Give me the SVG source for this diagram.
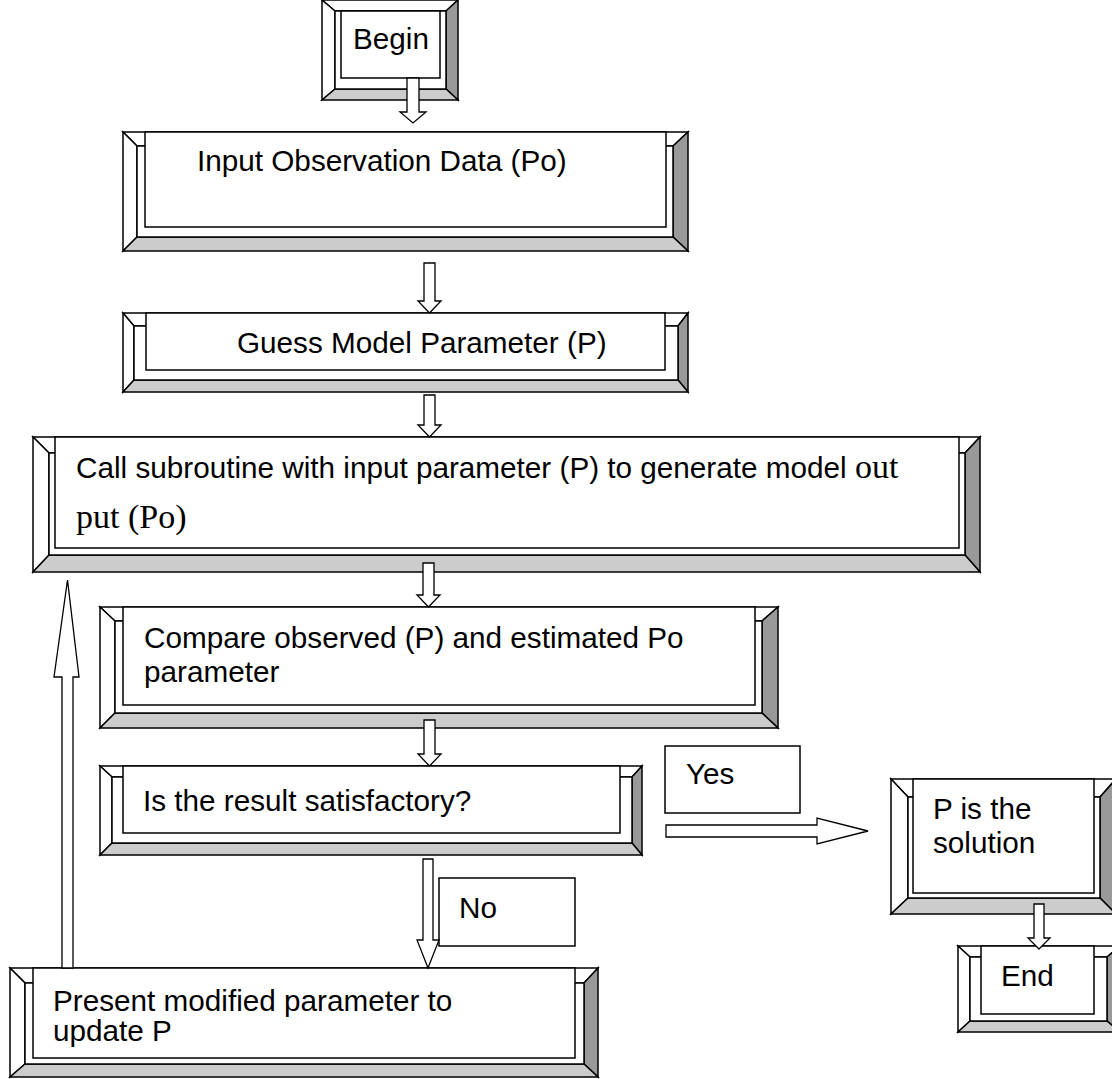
<svg xmlns="http://www.w3.org/2000/svg" width="1112" height="1079" viewBox="0 0 1112 1079">
<style>
.lt{fill:#fff;stroke:#000;stroke-width:1.5;stroke-linejoin:miter}
.dk{fill:#999;stroke:#000;stroke-width:1.5}
.md{fill:#ccc;stroke:#000;stroke-width:1.5}
.tx{font-family:"Liberation Sans",Arial,sans-serif;font-size:29.7px;fill:#000}
.ar{fill:#fff;stroke:#000;stroke-width:1.3;stroke-linejoin:miter}
</style>
<rect width="1112" height="1079" fill="#fff"/>
<g id="begin">
<polygon class="lt" points="322,0 458,0 446,11 335,11"/>
<polygon class="lt" points="322,0 335,11 335,89 322,100"/>
<polygon class="dk" points="458,0 458,100 446,89 446,11"/>
<polygon class="md" points="322,100 335,89 446,89 458,100"/>
<rect class="lt" x="335" y="11" width="111" height="78"/>
<rect class="lt" x="341" y="11" width="99" height="67"/>
<text class="tx" x="353" y="49">Begin</text>
</g>
<g id="input">
<polygon class="lt" points="123,132 688,132 673,146 137,146"/>
<polygon class="lt" points="123,132 137,146 137,237 123,251"/>
<polygon class="dk" points="688,132 688,251 673,237 673,146"/>
<polygon class="md" points="123,251 137,237 673,237 688,251"/>
<rect class="lt" x="137" y="146" width="536" height="91"/>
<rect class="lt" x="145" y="132" width="521" height="95"/>
<text class="tx" x="197" y="171">Input Observation Data (Po)</text>
</g>
<g id="guess">
<polygon class="lt" points="123,313 688,313 678,326 134,326"/>
<polygon class="lt" points="123,313 134,326 134,380 123,392"/>
<polygon class="dk" points="688,313 688,392 678,380 678,326"/>
<polygon class="md" points="123,392 134,380 678,380 688,392"/>
<rect class="lt" x="134" y="326" width="544" height="54"/>
<rect class="lt" x="146" y="313" width="519" height="57"/>
<text class="tx" x="237" y="353">Guess Model Parameter (P)</text>
</g>
<g id="call">
<polygon class="lt" points="33,437 980,437 965,453 49,453"/>
<polygon class="lt" points="33,437 49,453 49,555 33,572"/>
<polygon class="dk" points="980,437 980,572 965,555 965,453"/>
<polygon class="md" points="33,572 49,555 965,555 980,572"/>
<rect class="lt" x="49" y="453" width="916" height="102"/>
<rect class="lt" x="55" y="437" width="904" height="111"/>
<text class="tx" x="76" y="478">Call subroutine with input parameter (P) to generate model <tspan font-family="'Liberation Serif','Times New Roman',serif" font-size="34">out</tspan></text>
<text font-family="'Liberation Serif','Times New Roman',serif" font-size="34" x="76" y="528">put (Po)</text>
</g>
<g id="compare">
<polygon class="lt" points="100,607 778,607 762,621 115,621"/>
<polygon class="lt" points="100,607 115,621 115,713 100,728"/>
<polygon class="dk" points="778,607 778,728 762,713 762,621"/>
<polygon class="md" points="100,728 115,713 762,713 778,728"/>
<rect class="lt" x="115" y="621" width="647" height="92"/>
<rect class="lt" x="123" y="607" width="632" height="98"/>
<text class="tx" x="144" y="648">Compare observed (P) and estimated Po</text>
<text class="tx" x="144" y="682">parameter</text>
</g>
<g id="check">
<polygon class="lt" points="100,766 642,766 632,777 112,777"/>
<polygon class="lt" points="100,766 112,777 112,843 100,855"/>
<polygon class="dk" points="642,766 642,855 632,843 632,777"/>
<polygon class="md" points="100,855 112,843 632,843 642,855"/>
<rect class="lt" x="112" y="777" width="520" height="66"/>
<rect class="lt" x="123" y="766" width="497" height="67"/>
<text class="tx" x="143" y="811">Is the result satisfactory?</text>
</g>
<g id="yes-label">
<rect class="lt" x="665" y="746" width="135" height="67"/>
<text class="tx" x="686" y="784">Yes</text>
</g>
<g id="solution">
<polygon class="lt" points="891,779 1116,779 1100,797 908,797"/>
<polygon class="lt" points="891,779 908,797 908,898 891,914"/>
<polygon class="dk" points="1116,779 1116,914 1100,898 1100,797"/>
<polygon class="md" points="891,914 908,898 1100,898 1116,914"/>
<rect class="lt" x="908" y="797" width="192" height="101"/>
<rect class="lt" x="913" y="779" width="181" height="114"/>
<text class="tx" x="933" y="819">P is the</text>
<text class="tx" x="933" y="853">solution</text>
</g>
<g id="end">
<polygon class="lt" points="958,946 1120,946 1107,957 970,957"/>
<polygon class="lt" points="958,946 970,957 970,1021 958,1032"/>
<polygon class="dk" points="1120,946 1120,1032 1107,1021 1107,957"/>
<polygon class="md" points="958,1032 970,1021 1107,1021 1120,1032"/>
<rect class="lt" x="970" y="957" width="137" height="64"/>
<rect class="lt" x="981" y="946" width="113" height="68"/>
<text class="tx" x="1001" y="986">End</text>
</g>
<g id="no-label">
<rect class="lt" x="439" y="878" width="136" height="68"/>
<text class="tx" x="459" y="918">No</text>
</g>
<g id="present">
<polygon class="lt" points="10,968 598,968 584,983 25,983"/>
<polygon class="lt" points="10,968 25,983 25,1064 10,1077"/>
<polygon class="dk" points="598,968 598,1077 584,1064 584,983"/>
<polygon class="md" points="10,1077 25,1064 584,1064 598,1077"/>
<rect class="lt" x="25" y="983" width="559" height="81"/>
<rect class="lt" x="33" y="968" width="542" height="90"/>
<text class="tx" x="53" y="1011">Present modified parameter to</text>
<text class="tx" x="53" y="1041">update P</text>
</g>
<g id="connectors">
<polygon class="ar" points="407,78 419,78 419,112 426,112 413,123 400,112 407,112"/>
<polygon class="ar" points="424,263 435,263 435,301 441,301 429.5,313 418,301 424,301"/>
<polygon class="ar" points="424,395 435,395 435,425 441,425 429.5,437 418,425 424,425"/>
<polygon class="ar" points="423,563 434,563 434,595 440,595 428.5,607 417,595 423,595"/>
<polygon class="ar" points="424,720 435,720 435,754 441,754 429.5,766 418,754 424,754"/>
<polygon class="ar" points="423,859 433,859 433,940 439,940 428,968 417,940 423,940"/>
<polygon class="ar" points="666,825 817,825 817,818 868,831 817,844 817,837 666,837"/>
<polygon class="ar" points="1034,904 1044,904 1044,938 1050,938 1039,949 1028,938 1034,938"/>
<polygon class="ar" points="62,968 62,677 54,677 67.5,580 79,677 73,677 73,968"/>
</g>
</svg>
